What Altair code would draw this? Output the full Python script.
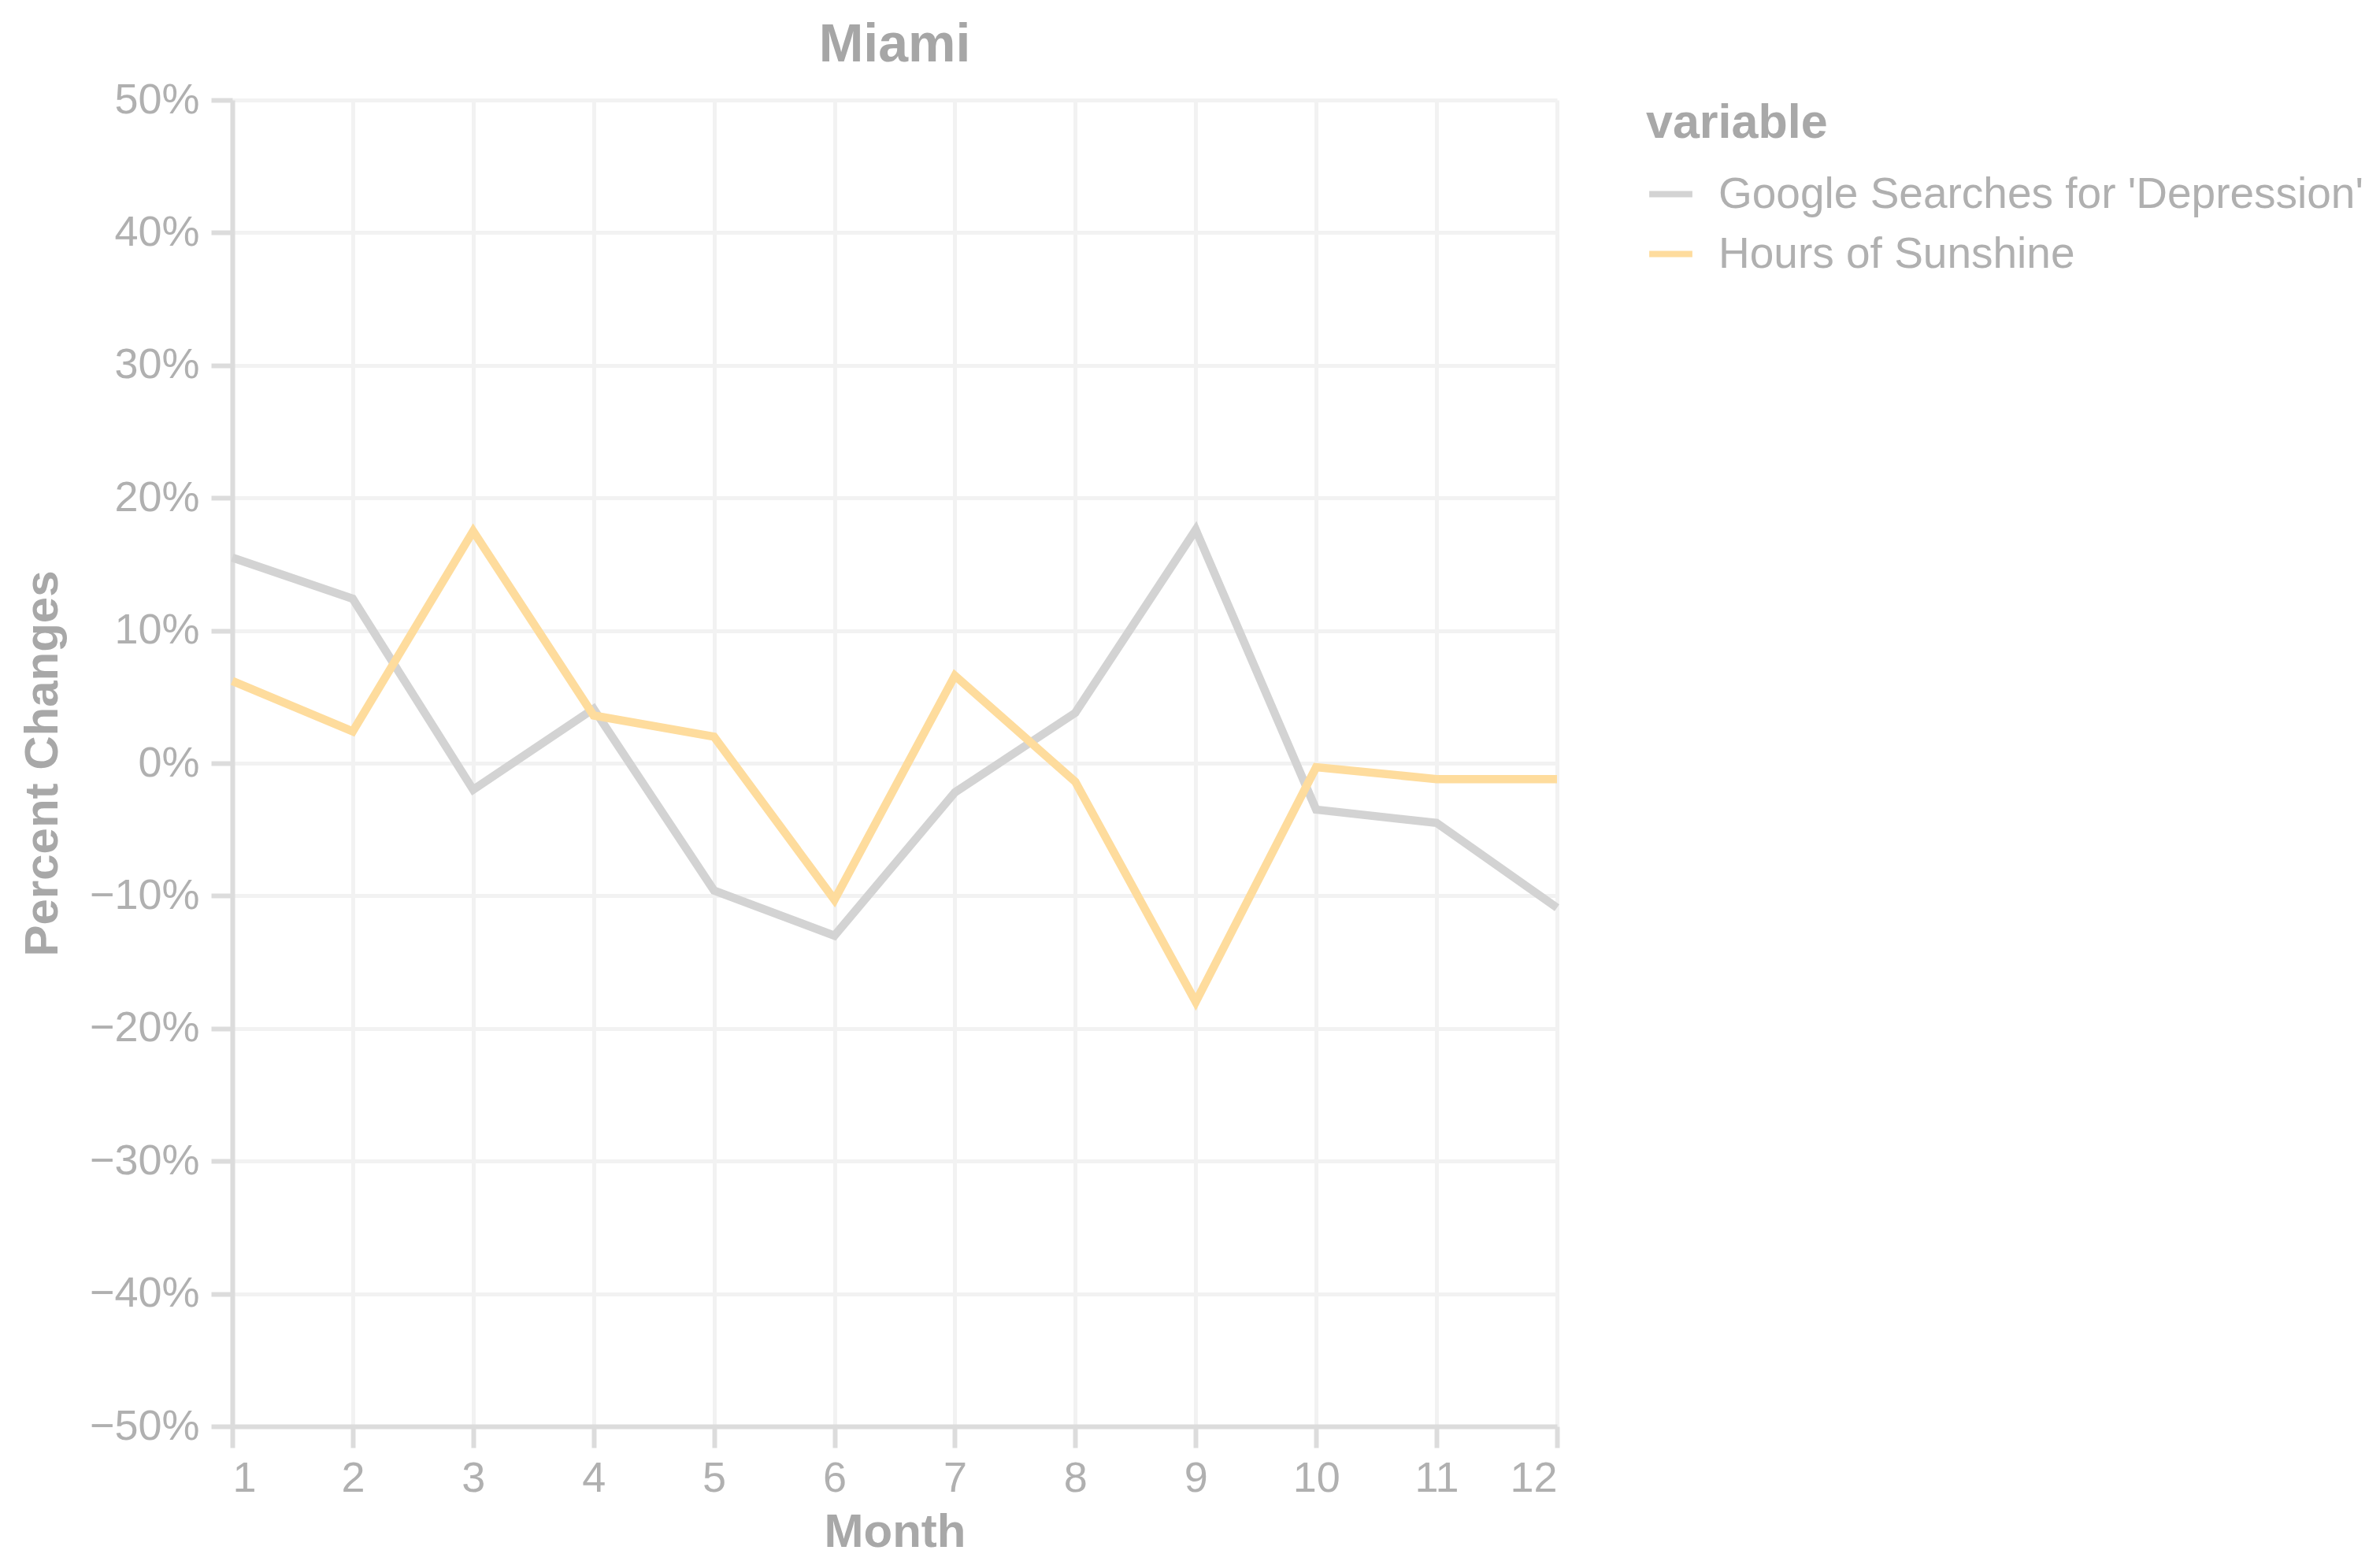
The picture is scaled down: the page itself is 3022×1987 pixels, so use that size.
import altair as alt
import pandas as pd

months = list(range(1, 13))
series_names = ["Google Searches for 'Depression'", "Hours of Sunshine"]
google_searches = [0.155, 0.124, -0.020, 0.041, -0.096, -0.130, -0.022, 0.038, 0.176, -0.035, -0.045, -0.109]
sunshine_hours = [0.062, 0.024, 0.175, 0.036, 0.020, -0.103, 0.066, -0.014, -0.180, -0.003, -0.012, -0.012]
line_colors = ["#d3d3d3", "#fedc9d"]
y_ticks = [-0.5, -0.4, -0.3, -0.2, -0.1, 0.0, 0.1, 0.2, 0.3, 0.4, 0.5]

rows = []
for m, g, s in zip(months, google_searches, sunshine_hours):
    rows.append({"Month": m, "variable": series_names[0], "value": g})
    rows.append({"Month": m, "variable": series_names[1], "value": s})
df = pd.DataFrame(rows)

FONT = "Liberation Sans"

chart = (
    alt.Chart(df)
    .mark_line(strokeWidth=10.5)
    .encode(
        x=alt.X(
            "Month:Q",
            title="Month",
            scale=alt.Scale(domain=[1, 12], nice=False, zero=False),
            axis=alt.Axis(values=months, format="d"),
        ),
        y=alt.Y(
            "value:Q",
            title="Percent Changes",
            scale=alt.Scale(domain=[-0.5, 0.5], nice=False),
            axis=alt.Axis(values=y_ticks, format=".0%"),
        ),
        color=alt.Color(
            "variable:N",
            title="variable",
            scale=alt.Scale(domain=series_names, range=line_colors),
            legend=alt.Legend(
                symbolType="stroke",
                symbolSize=3000,
                symbolStrokeWidth=8,
                labelFontSize=55,
                titleFontSize=61,
                labelFont=FONT,
                titleFont=FONT,
                labelColor="#b0b0b0",
                titleColor="#a8a8a8",
                labelOffset=29,
                rowPadding=16,
                titlePadding=27,
                offset=92,
                labelLimit=1000,
                titleLimit=1000,
            ),
        ),
    )
    .properties(
        width=1682,
        height=1684,
        title=alt.TitleParams(
            "Miami",
            fontSize=68,
            font=FONT,
            fontWeight="bold",
            color="#a6a6a6",
            anchor="middle",
            offset=8,
        ),
        autosize=alt.AutoSizeParams(type="none"),
        padding={"left": 287, "top": 119, "right": 1037, "bottom": 168},
    )
    .configure_view(stroke=None)
    .configure_axis(
        labelFont=FONT,
        titleFont=FONT,
        labelFontSize=54,
        titleFontSize=60,
        labelColor="#b0b0b0",
        titleColor="#a8a8a8",
        gridColor="#f2f2f2",
        gridWidth=5,
        domainColor="#dcdcdc",
        domainWidth=6,
        tickColor="#dcdcdc",
        tickWidth=6,
        tickSize=27,
    )
    .configure_axisY(labelPadding=15, titlePadding=28)
    .configure_axisX(labelPadding=12, titlePadding=12)
)

chart.save("out.html", embed_options={"renderer": "svg", "actions": False})
